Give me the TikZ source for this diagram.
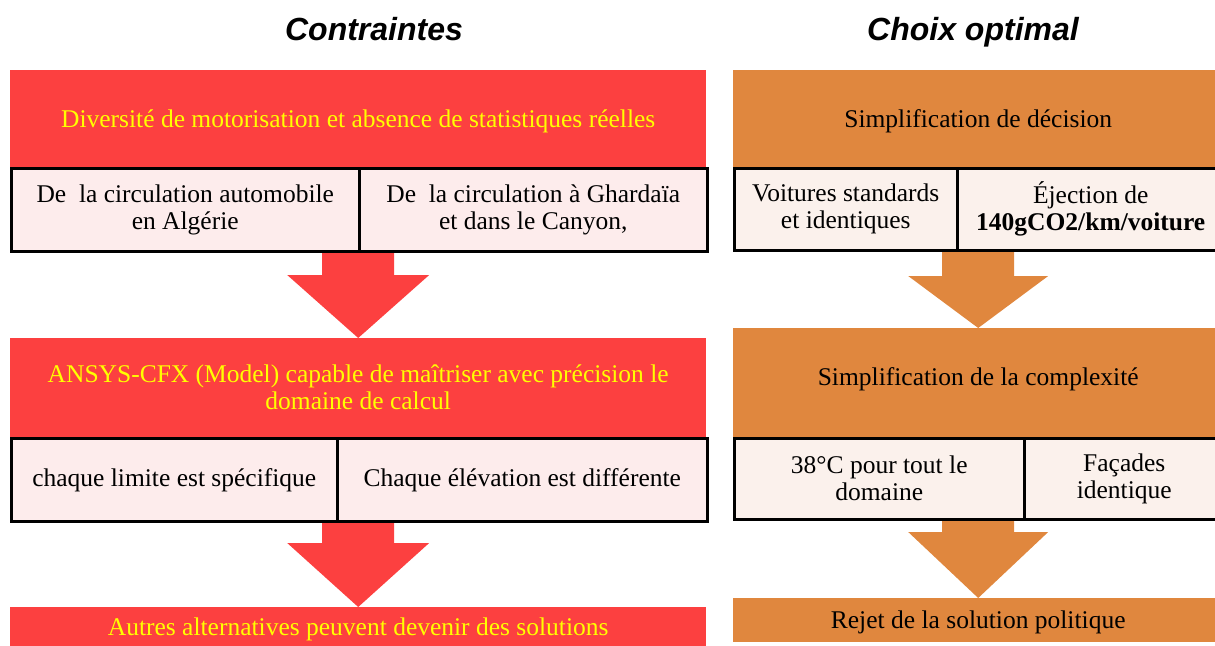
\documentclass[tikz,border=0pt]{standalone}
\usepackage{fontspec}
\setmainfont{Liberation Serif}
\newfontfamily\headfont{Liberation Sans}
\usetikzlibrary{calc,backgrounds}
\definecolor{boxred}{RGB}{252,64,64}
\definecolor{boxorange}{RGB}{224,135,62}
\definecolor{cellpink}{RGB}{253,236,236}
\definecolor{cellcream}{RGB}{251,241,236}
\definecolor{textyellow}{RGB}{255,255,0}

% block arrow from the bottom of a cell row (#2) to the top of the next box (#3)
% #1 colour, #4 half shaft width, #5 half head width, #6 head length
\newcommand{\blockarrow}[6]{%
  \fill[#1] let \p1=(#2.south), \p2=(#3.north) in
    (\x2-#4pt,\y1) -- (\x2+#4pt,\y1) -- (\x2+#4pt,\y2+#6pt) -- (\x2+#5pt,\y2+#6pt)
    -- (\x2,\y2) -- (\x2-#5pt,\y2+#6pt) -- (\x2-#4pt,\y2+#6pt) -- cycle;}

\begin{document}
\begin{tikzpicture}[x=1pt,y=-1pt,
  title/.style={font=\headfont\bfseries\itshape\fontsize{32}{36}\selectfont, anchor=base},
  bodyfont/.style={font=\fontsize{25.5}{27}\selectfont},
  redbox/.style={bodyfont, fill=boxred, draw=none, anchor=north west, inner sep=0pt,
    align=center, text=textyellow},
  orangebox/.style={bodyfont, fill=boxorange, draw=none, anchor=north west, inner sep=0pt,
    align=center, text=black},
  redcell/.style={bodyfont, fill=cellpink, draw=black, line width=2.5pt, anchor=north west,
    inner sep=0pt, align=center},
  orangecell/.style={bodyfont, fill=cellcream, draw=black, line width=2.5pt, anchor=north west,
    inner sep=0pt, align=center},
  % fixes the baseline of a one-line box at (#1-#2)/2 below its centre
  baseline at/.style 2 args={text height=#1pt, text depth=#2pt}]
\useasboundingbox (0,0) rectangle (1215,645);
\clip (0,0) rectangle (1215,645);

% column headings
\node[title] (h1) at (374,40) {Contraintes};
\node[title] (h2) at (973,40) {Choix optimal};

% left column: constraints
\node[redbox, baseline at={24}{6}, minimum width=696pt, minimum height=97pt] (r1) at (10,70)
  {Diversité de motorisation et absence de statistiques réelles};
\node[redcell, minimum width=348pt, minimum height=83pt] (r1a) at (10,167)
  {De\ \ la circulation automobile\\en Algérie};
\node[redcell, minimum width=348pt, minimum height=83pt] (r1b) at (358,167)
  {De\ \ la circulation à Ghardaïa\\et dans le Canyon,};
\node[redbox, minimum width=696pt, minimum height=99pt] (r2) at (10,338)
  {ANSYS-CFX (Model) capable de maîtriser avec précision le\\domaine de calcul};
\node[redcell, minimum width=326pt, minimum height=83pt] (r2a) at (10,437)
  {chaque limite est spécifique};
\node[redcell, minimum width=370pt, minimum height=83pt] (r2b) at (336,437)
  {Chaque élévation est différente};
\node[redbox, baseline at={20}{6}, minimum width=696pt, minimum height=42pt] (r3) at (10,607)
  {Autres alternatives peuvent devenir des solutions};

% right column: optimal choice
\node[orangebox, baseline at={24}{6}, minimum width=490pt, minimum height=97pt] (o1) at (733,70)
  {Simplification de décision};
\node[orangecell, minimum width=223pt, minimum height=82pt] (o1a) at (733,167)
  {Voitures standards\\et identiques};
\node[orangecell, minimum width=267pt, minimum height=82pt] (o1b) at (956,167)
  {Éjection de\\\textbf{140gCO2/km/voiture}};
\node[orangebox, baseline at={20}{15}, minimum width=490pt, minimum height=109pt] (o2) at (733,328)
  {Simplification de la complexité};
\node[orangecell, minimum width=290pt, minimum height=81pt] (o2a) at (733,437)
  {38°C pour tout le\\domaine};
\node[orangecell, minimum width=200pt, minimum height=81pt] (o2b) at (1023,437)
  {Façades\\identique};
\node[orangebox, baseline at={22}{6}, minimum width=490pt, minimum height=44pt] (o3) at (733,598)
  {Rejet de la solution politique};

% block arrows between the stages
\begin{scope}[on background layer]
  \blockarrow{boxred}{r1a}{r2}{36}{71}{63}
  \blockarrow{boxred}{r2a}{r3}{36}{71}{64}
  \blockarrow{boxorange}{o1a}{o2}{36}{70}{52}
  \blockarrow{boxorange}{o2a}{o3}{36}{70}{66}
\end{scope}
\end{tikzpicture}
\end{document}
